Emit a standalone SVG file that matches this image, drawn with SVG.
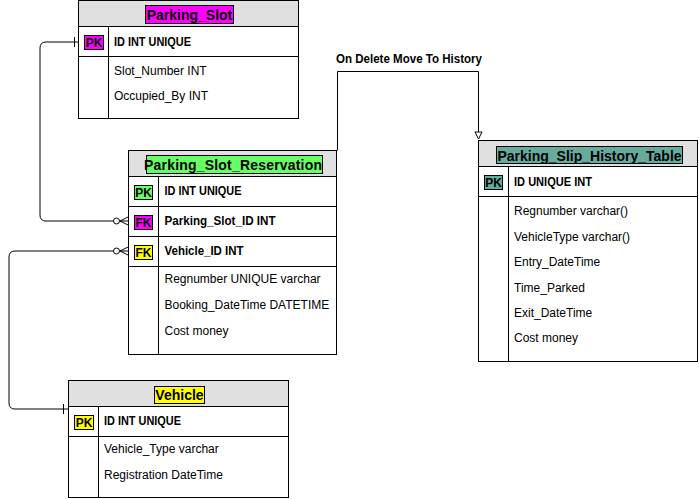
<svg xmlns="http://www.w3.org/2000/svg" width="699" height="499" viewBox="0 0 699 499">
<style>
.box{fill:#ffffff;stroke:#000000;stroke-width:1}
.hdr{fill:#e0e0e0;stroke:#000000;stroke-width:1}
.ln{stroke:#000000;stroke-width:1;fill:none}
.t{font-family:"Liberation Sans",Arial,sans-serif;font-size:12px;fill:#000000}
.b{font-weight:bold}
.title{font-family:"Liberation Sans",Arial,sans-serif;font-size:14px;font-weight:bold;text-anchor:middle;fill:#000000}
.badge{stroke:#000000;stroke-width:1}
.bt{font-family:"Liberation Sans",Arial,sans-serif;font-size:12px;font-weight:bold;text-anchor:middle;fill:#000000}
.mag{fill:#ff00ff}
.grn{fill:#66ff66}
.yel{fill:#ffff00}
.teal{fill:#67ab9f}
.conn{stroke:#000000;stroke-width:1;fill:none}
</style>
<g id="connectors">
  <path class="conn" d="M78.5,42 H46 Q40,42 40,48 V215 Q40,221 46,221 H113.5"/>
  <path class="conn" d="M74.5,37 V47"/>
  <circle class="conn" cx="116.5" cy="221" r="3" fill="#ffffff"/>
  <path class="conn" d="M128,217 L120,221 L128,225 M120,221 H128"/>
  <path class="conn" d="M113.5,251 H15 Q9,251 9,257 V403 Q9,409 15,409 H68.5"/>
  <path class="conn" d="M63.5,404 V414"/>
  <circle class="conn" cx="116.5" cy="251" r="3" fill="#ffffff"/>
  <path class="conn" d="M128,247 L120,251 L128,255 M120,251 H128"/>
  <path class="conn" d="M337.5,150.5 V71.5 H478.5 V132"/>
  <polygon points="475,132 482,132 478.5,139" fill="#ffffff" stroke="#000000" stroke-width="1"/>
  <text class="t b" x="336" y="63" textLength="146" lengthAdjust="spacingAndGlyphs">On Delete Move To History</text>
</g>
<g id="parking_slot">
  <rect class="box" x="78.5" y="0.5" width="220" height="118"/>
  <rect class="hdr" x="78.5" y="0.5" width="220" height="26"/>
  <line class="ln" x1="78.5" y1="56.5" x2="298.5" y2="56.5"/>
  <line class="ln" x1="108.5" y1="26.5" x2="108.5" y2="118.5"/>
  <rect class="badge mag" x="145.5" y="5.5" width="88" height="18"/>
  <text class="title" x="189.5" y="20">Parking_Slot</text>
  <rect class="badge mag" x="84.5" y="35.5" width="19" height="14"/>
  <text class="bt" x="94" y="47">PK</text>
  <text class="t b" x="114" y="46" textLength="77" lengthAdjust="spacingAndGlyphs">ID INT UNIQUE</text>
  <text class="t" x="114" y="75">Slot_Number INT</text>
  <text class="t" x="114" y="100">Occupied_By INT</text>
</g>
<g id="parking_slot_reservation">
  <rect class="box" x="128.5" y="150.5" width="208" height="204"/>
  <rect class="hdr" x="128.5" y="150.5" width="208" height="26"/>
  <line class="ln" x1="128.5" y1="206.5" x2="336.5" y2="206.5"/>
  <line class="ln" x1="128.5" y1="236.5" x2="336.5" y2="236.5"/>
  <line class="ln" x1="128.5" y1="266.5" x2="336.5" y2="266.5"/>
  <line class="ln" x1="158.5" y1="176.5" x2="158.5" y2="354.5"/>
  <rect class="badge grn" x="146.5" y="155.5" width="176" height="18"/>
  <text class="title" x="233" y="170" textLength="178" lengthAdjust="spacing">Parking_Slot_Reservation</text>
  <rect class="badge grn" x="134.5" y="185.5" width="18" height="14"/>
  <text class="bt" x="143.5" y="197">PK</text>
  <rect class="badge mag" x="134.5" y="215.5" width="18" height="14"/>
  <text class="bt" x="143.5" y="227">FK</text>
  <rect class="badge yel" x="134.5" y="245.5" width="18" height="14"/>
  <text class="bt" x="143.5" y="257">FK</text>
  <text class="t b" x="164.5" y="195" textLength="77" lengthAdjust="spacingAndGlyphs">ID INT UNIQUE</text>
  <text class="t b" x="164.5" y="225" textLength="111" lengthAdjust="spacingAndGlyphs">Parking_Slot_ID INT</text>
  <text class="t b" x="164.5" y="255" textLength="79" lengthAdjust="spacingAndGlyphs">Vehicle_ID INT</text>
  <text class="t" x="164.5" y="283">Regnumber UNIQUE varchar</text>
  <text class="t" x="164.5" y="309">Booking_DateTime DATETIME</text>
  <text class="t" x="164.5" y="335">Cost money</text>
</g>
<g id="vehicle">
  <rect class="box" x="68.5" y="380.5" width="220" height="117"/>
  <rect class="hdr" x="68.5" y="380.5" width="220" height="26"/>
  <line class="ln" x1="68.5" y1="436.5" x2="288.5" y2="436.5"/>
  <line class="ln" x1="98.5" y1="406.5" x2="98.5" y2="497.5"/>
  <rect class="badge yel" x="154.5" y="386.5" width="50" height="17"/>
  <text class="title" x="179.5" y="400">Vehicle</text>
  <rect class="badge yel" x="74.5" y="415.5" width="19" height="14"/>
  <text class="bt" x="84" y="427">PK</text>
  <text class="t b" x="104" y="425" textLength="77" lengthAdjust="spacingAndGlyphs">ID INT UNIQUE</text>
  <text class="t" x="104" y="453">Vehicle_Type varchar</text>
  <text class="t" x="104" y="479">Registration DateTime</text>
</g>
<g id="parking_slip_history_table">
  <rect class="box" x="478.5" y="140.5" width="219" height="221"/>
  <rect class="hdr" x="478.5" y="140.5" width="219" height="26"/>
  <line class="ln" x1="478.5" y1="196.5" x2="697.5" y2="196.5"/>
  <line class="ln" x1="508.5" y1="166.5" x2="508.5" y2="361.5"/>
  <rect class="badge teal" x="496.5" y="146.5" width="186" height="17"/>
  <text class="title" x="589.5" y="161">Parking_Slip_History_Table</text>
  <rect class="badge teal" x="484.5" y="175.5" width="18" height="14"/>
  <text class="bt" x="493.5" y="187">PK</text>
  <text class="t b" x="514" y="186" textLength="78" lengthAdjust="spacingAndGlyphs">ID UNIQUE INT</text>
  <text class="t" x="514" y="215">Regnumber varchar()</text>
  <text class="t" x="514" y="241">VehicleType varchar()</text>
  <text class="t" x="514" y="266">Entry_DateTime</text>
  <text class="t" x="514" y="292">Time_Parked</text>
  <text class="t" x="514" y="317">Exit_DateTime</text>
  <text class="t" x="514" y="342">Cost money</text>
</g>
</svg>
